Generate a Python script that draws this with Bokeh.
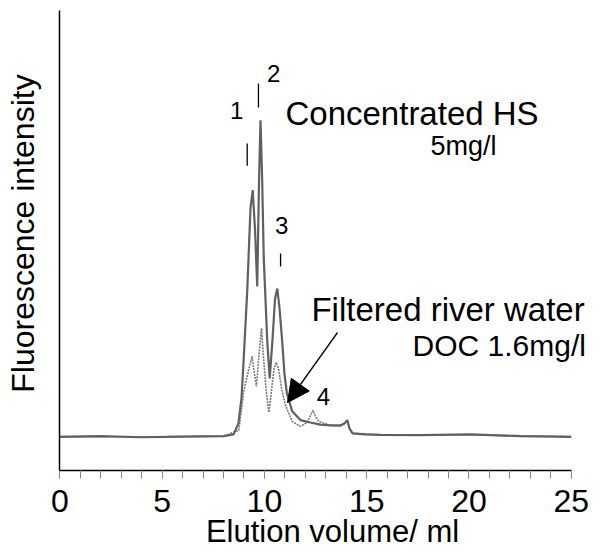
from math import pi
from bokeh.plotting import figure
from bokeh.models import Arrow, NormalHead, FixedTicker, Range1d, ColumnDataSource
from bokeh.core.properties import value
from bokeh.embed import file_html
from bokeh.resources import INLINE

# ---- data ----
elution_hs = [0.0, 2.0, 4.0, 6.0, 8.0, 8.49, 8.73, 8.88, 8.99, 9.16, 9.32, 9.43, 9.54, 9.65,
              9.74, 9.81, 9.89, 9.97, 10.14, 10.26, 10.40, 10.52, 10.63, 10.74, 10.87, 10.98,
              11.10, 11.36, 11.76, 12.25, 12.74, 13.23, 13.72, 13.91, 14.05, 14.16, 14.31,
              14.94, 15.67, 17.63, 20.07, 22.52, 25.0]
intensity_hs = [9.6, 9.8, 9.5, 9.7, 9.8, 10.3, 13.4, 20.6, 32.0, 51.1, 74.9, 80.1, 69.1, 52.6,
                83.4, 100.1, 83.4, 60.6, 36.9, 26.3, 37.7, 49.1, 52.0, 46.3, 36.9, 27.7,
                22.0, 16.9, 14.4, 13.7, 13.1, 12.9, 12.9, 13.4, 14.4, 12.0, 10.6,
                10.3, 10.2, 10.1, 10.3, 9.8, 9.6]

elution_river = [0.0, 4.0, 8.0, 8.75, 8.99, 9.24, 9.40, 9.49, 9.61, 9.74, 9.86, 9.96, 10.09,
                 10.22, 10.35, 10.47, 10.57, 10.69, 10.84, 11.03, 11.36, 11.76, 12.09, 12.25,
                 12.37, 12.50, 12.66, 13.23, 13.72, 13.91, 14.05, 14.16, 14.31, 16.0, 20.0, 25.0]
intensity_river = [9.7, 9.6, 9.8, 11.5, 22.6, 29.0, 32.6, 28.6, 24.0, 33.4, 40.6, 32.0, 22.6,
                   16.6, 22.9, 29.1, 30.9, 29.1, 23.4, 18.6, 14.0, 12.6, 13.7, 15.7,
                   17.2, 15.4, 14.0, 12.9, 12.7, 13.4, 14.3, 12.0, 10.6, 10.1, 10.2, 9.7]

x_ticks = [0, 5, 10, 15, 20, 25]
x_minor_ticks = list(range(0, 26))
peak_names = ["1", "2", "3", "4"]
peak_label_x = [8.64, 10.45, 10.84, 12.89]
peak_label_y = [102.9, 113.4, 70.0, 21.1]
peak_mark_x = [9.16, 9.71, 10.79]
peak_mark_y0 = [87.1, 103.7, 58.3]
peak_mark_y1 = [93.4, 110.6, 62.0]

FONT = "Liberation Sans"

# The frame fills the whole canvas; the axes sit at fixed data locations so the
# outside texts (titles, long annotations) are not clipped.
p = figure(width=598, height=548, output_backend="svg", toolbar_location=None,
           x_range=Range1d(-2.898, 26.33), y_range=Range1d(-22.29, 134.29),
           min_border_left=0, min_border_right=0, min_border_top=0, min_border_bottom=0)
p.outline_line_color = None
p.xgrid.grid_line_color = None
p.ygrid.grid_line_color = None
p.background_fill_color = "white"

# x axis
xa = p.xaxis[0]
xa.fixed_location = 0
xa.bounds = (0, 25)
xa.ticker = FixedTicker(ticks=x_ticks, minor_ticks=x_minor_ticks)
xa.axis_line_color = "black"
xa.axis_line_width = 1.5
xa.major_tick_in = 0
xa.major_tick_out = 8
xa.minor_tick_in = 0
xa.minor_tick_out = 8
xa.major_tick_line_color = "#888888"
xa.minor_tick_line_color = "#888888"
xa.major_label_text_font = FONT
xa.major_label_text_font_size = "32px"
xa.major_label_text_color = "black"
xa.major_label_standoff = 12

# y axis (no ticks)
ya = p.yaxis[0]
ya.fixed_location = 0
ya.bounds = (0, 131.4)
ya.ticker = FixedTicker(ticks=[])
ya.axis_line_color = "black"
ya.axis_line_width = 1.5
ya.major_tick_line_color = None
ya.minor_tick_line_color = None
ya.major_label_text_font_size = "0px"

# curves
p.line(elution_river, intensity_river, line_color="#7a7a7a", line_width=1.6, line_dash="2 1")
p.line(elution_hs, intensity_hs, line_color="#606060", line_width=2.2)

# peak marks and numbers
p.segment(x0=peak_mark_x, y0=peak_mark_y0, x1=peak_mark_x, y1=peak_mark_y1,
          line_color="black", line_width=1.3)
src = ColumnDataSource(dict(x=peak_label_x, y=peak_label_y, t=peak_names))
p.text(x="x", y="y", text="t", source=src, text_font=value(FONT), text_font_size="24px",
       text_align="center", text_baseline="middle", text_color="black")


def lab(x, y, t, size, align="left", angle=0):
    p.text(x=[x], y=[y], text=[t], text_font=value(FONT), text_font_size=size,
           text_align=align, text_baseline="middle", angle=angle, text_color="black")


lab(11.03, 101.9, "Concentrated HS", "33px")
lab(18.12, 92.7, "5mg/l", "27px")
lab(12.30, 46.0, "Filtered river water", "33px")
lab(17.24, 35.6, "DOC 1.6mg/l", "30px")
lab(13.33, -17.29, "Elution volume/ ml", "31px", align="center")
lab(-1.82, 67.7, "Fluorescence intensity", "32px", align="center", angle=pi / 2)

p.add_layout(Arrow(end=NormalHead(size=22, fill_color="black", line_color="black"),
                   x_start=13.57, y_start=39.4, x_end=11.13, y_end=19.4,
                   line_color="black", line_width=1.5))

open("out.html", "w").write(file_html(p, INLINE))
